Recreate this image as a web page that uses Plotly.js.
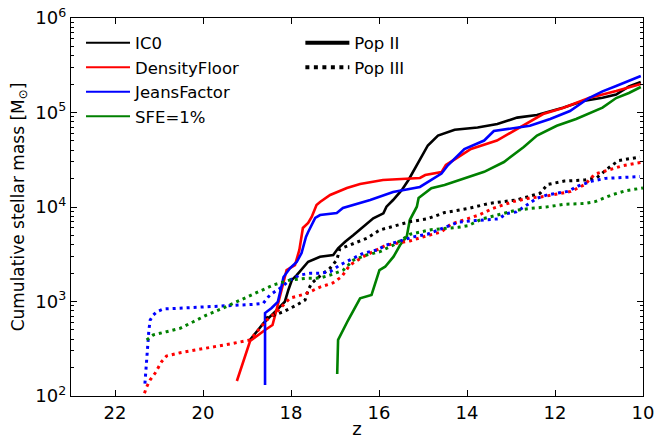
<!DOCTYPE html>
<html>
<head>
<meta charset="utf-8">
<script src="https://cdn.plot.ly/plotly-3.0.1.min.js"></script>
<style>html,body{margin:0;padding:0;background:#fff;}#chart{width:655px;height:439px;}</style>
</head>
<body>
<div id="chart"></div>
<script>
// ---- Data (redshift z, cumulative stellar mass in Msun) ----
const seriesNames = ["IC0", "DensityFloor", "JeansFactor", "SFE=1%"];
const seriesColors = ["#000000", "#ff0000", "#0000ff", "#008000"];
const popNames = ["Pop II", "Pop III"];

// Pop II
const z_ic0_p2 = [18.93,18.63,18.36,18.14,18.06,17.98,17.87,17.61,17.34,17.04,16.93,16.77,16.58,16.36,16.13,15.90,15.83,15.68,15.48,15.33,15.22,15.10,14.89,14.66,14.28,13.76,13.31,12.86,12.41,11.82,11.36,10.92,10.61,10.32,10.05];
const m_ic0_p2 = [392,587,780,995,1324,1690,1905,2636,2979,3105,3656,4295,5058,6194,7586,8570,10070,11860,15140,19320,23660,29920,44770,57020,65770,69500,75510,88310,94190,112500,132400,143200,154900,189200,210400];

const z_df_p2 = [19.23,18.93,18.59,18.42,18.33,18.25,18.10,17.91,17.81,17.73,17.61,17.53,17.42,17.34,17.11,16.73,16.43,15.91,15.07,14.95,14.58,14.48,13.91,13.32,12.86,12.27,11.82,11.23,10.61,10.05];
const m_df_p2 = [144,382,499,564,813,1172,2153,2432,3508,6000,6776,7834,10500,11300,13400,15900,17500,19300,20300,21800,23400,27800,41100,50500,66800,96400,111700,142200,169000,200400];

const z_jf_p2 = [18.59,18.59,18.44,18.30,18.21,18.17,18.02,17.87,17.76,17.66,17.61,17.45,17.34,16.96,16.82,16.43,16.20,15.68,15.07,14.58,14.43,14.06,13.61,13.39,12.86,12.57,12.11,11.66,11.23,10.92,10.61,10.05];
const m_jf_p2 = [131,755,853,989,1496,1816,2259,2618,3258,4819,5433,7656,8222,8650,9750,11000,11860,14420,16300,22600,27800,41100,50500,63700,69500,72300,85300,103700,142200,167500,190500,243200];

const z_sfe_p2 = [16.95,16.93,16.70,16.43,16.17,16.09,15.99,15.86,15.67,15.52,15.37,15.30,15.14,15.10,14.81,14.51,14.06,13.61,13.16,12.71,12.41,11.96,11.52,10.92,10.61,10.32,10.05];
const m_sfe_p2 = [171,392,637,1081,1172,1560,2153,2333,2979,3963,4853,7278,10070,12450,15780,17100,20090,23550,29920,43150,57020,72280,85310,112500,142200,160700,186200];

// Pop III
const z_ic0_p3 = [18.57,18.17,17.87,17.68,17.61,17.53,17.34,17.11,16.96,16.89,16.66,16.28,15.98,15.67,15.30,14.90,14.51,13.97,13.50,12.88,12.57,12.34,12.17,11.79,11.32,11.05,10.77,10.55,10.07];
const m_ic0_p3 = [668,780,918,1038,1324,1560,1862,2259,2748,3597,3963,4667,5715,6295,6982,7499,8730,9638,10910,11860,12910,13960,17300,18790,19320,20420,26240,31050,33810];

const z_df_p3 = [21.33,21.28,21.20,21.09,20.94,20.83,20.52,20.07,19.69,19.31,18.93,18.55,18.32,18.02,17.68,17.34,17.05,16.85,16.66,16.36,15.83,15.30,14.93,14.59,14.36,13.93,13.73,13.42,12.95,12.57,12.25,11.64,11.32,11.09,10.70,10.46,10.00];
const m_df_p3 = [107,125,148,174,231,265,287,312,333,361,392,637,780,1089,1199,1422,1570,1828,2432,2979,3963,4365,4932,5433,6607,7656,8222,9638,11400,12450,12910,14620,17300,22340,25230,27350,29920];

const z_jf_p3 = [21.32,21.30,21.28,21.26,21.24,21.23,21.20,21.13,21.05,20.90,20.45,19.84,19.31,18.86,18.63,18.48,18.25,18.02,17.80,17.57,17.34,17.11,16.89,16.58,16.36,16.05,15.83,15.52,15.23,14.90,14.43,14.20,13.81,13.50,13.27,13.11,12.88,12.64,12.41,12.17,11.71,11.48,11.16,10.85,10.55,10.07];
const m_jf_p3 = [135,188,231,307,392,499,637,719,780,834,853,881,918,933,957,1172,1380,1690,1905,1986,1990,2065,2432,2864,3236,3508,3963,4365,4819,5152,6353,6902,7194,7379,7499,8511,8872,10500,12390,13460,14620,16600,18790,20090,20420,20990];

const z_sfe_p3 = [21.28,21.13,20.83,20.52,20.22,19.92,19.61,19.31,19.01,18.70,18.40,18.02,17.64,17.34,17.11,16.81,16.58,16.28,15.98,15.67,15.29,14.82,14.20,13.97,13.65,13.19,12.88,12.57,12.17,11.79,11.32,11.09,10.70,10.39,10.00];
const m_sfe_p3 = [392,443,479,520,611,719,826,957,1107,1271,1496,1690,1762,1770,1905,2153,2748,3105,3365,3963,5152,5754,6095,6353,7499,8511,9247,9638,10050,10670,10910,11400,13460,14890,15890];

// Axis ticks
const xTickVals = [22, 20, 18, 16, 14, 12, 10];
const xTickText = ["22", "20", "18", "16", "14", "12", "10"];
const yTickVals = [1e2, 1e3, 1e4, 1e5, 1e6];
const yTickText = ["10<sup>2</sup>", "10<sup>3</sup>", "10<sup>4</sup>", "10<sup>5</sup>", "10<sup>6</sup>"];

// ---- Build traces ----
const popII = [[z_ic0_p2, m_ic0_p2], [z_df_p2, m_df_p2], [z_jf_p2, m_jf_p2], [z_sfe_p2, m_sfe_p2]];
const popIII = [[z_ic0_p3, m_ic0_p3], [z_df_p3, m_df_p3], [z_jf_p3, m_jf_p3], [z_sfe_p3, m_sfe_p3]];

const DOT = "3px,4px";
const traces = [];
popII.forEach((s, i) => traces.push({
  x: s[0], y: s[1], type: "scatter", mode: "lines", showlegend: false,
  line: {color: seriesColors[i], width: 2.6}, hoverinfo: "skip"
}));
popIII.forEach((s, i) => traces.push({
  x: s[0], y: s[1], type: "scatter", mode: "lines", showlegend: false,
  line: {color: seriesColors[i], width: 3, dash: DOT}, hoverinfo: "skip"
}));
// legend entries (no data)
seriesNames.forEach((n, i) => traces.push({
  x: [null], y: [null], type: "scatter", mode: "lines", name: n, legend: "legend",
  line: {color: seriesColors[i], width: 2}
}));
traces.push({x: [null], y: [null], type: "scatter", mode: "lines", name: popNames[0], legend: "legend2",
  line: {color: "#000", width: 4}});
traces.push({x: [null], y: [null], type: "scatter", mode: "lines", name: popNames[1], legend: "legend2",
  line: {color: "#000", width: 4, dash: "4px,4.5px"}});

// minor ticks for log axis
const yMinor = [];
for (let e = 2; e < 6; e++) for (let k = 2; k <= 9; k++) yMinor.push(k * Math.pow(10, e));

const FONT = "DejaVu Sans, Arial, sans-serif";
const layout = {
  width: 655, height: 439,
  margin: {l: 71, r: 12, t: 18, b: 43},
  paper_bgcolor: "#fff", plot_bgcolor: "#fff",
  font: {family: FONT, color: "#000"},
  showlegend: true,
  xaxis: {
    range: [23, 10], tickmode: "array", tickvals: xTickVals, ticktext: xTickText,
    ticks: "inside", ticklen: 6, tickwidth: 1, tickcolor: "#000",
    showline: true, linecolor: "#000", linewidth: 1.2, mirror: "allticks",
    showgrid: false, zeroline: false, tickfont: {size: 18},
    title: {text: "z", font: {size: 18}, standoff: 2}
  },
  yaxis: {
    type: "log", range: [2, 6], tickmode: "array", tickvals: yTickVals, ticktext: yTickText,
    ticks: "inside", ticklen: 6, tickwidth: 1, tickcolor: "#000",
    showline: true, linecolor: "#000", linewidth: 1.2, mirror: "allticks",
    showgrid: false, zeroline: false, tickfont: {size: 18},
    minor: {tickmode: "array", tickvals: yMinor, ticks: "inside", ticklen: 3, tickcolor: "#000", showgrid: false},
    title: {text: "Cumulative stellar mass [M<sub>⊙</sub>]", font: {size: 17}, standoff: 6}
  },
  legend: {
    x: 0.0175, y: 0.98, xanchor: "left", yanchor: "top",
    bgcolor: "rgba(0,0,0,0)", borderwidth: 0, font: {size: 16.5, family: FONT},
    itemwidth: 44, tracegroupgap: 0
  },
  legend2: {
    x: 0.401, y: 0.98, xanchor: "left", yanchor: "top",
    bgcolor: "rgba(0,0,0,0)", borderwidth: 0, font: {size: 16.5, family: FONT},
    itemwidth: 44, tracegroupgap: 0
  }
};

Plotly.newPlot("chart", traces, layout, {staticPlot: true, displayModeBar: false});
</script>
</body>
</html>
